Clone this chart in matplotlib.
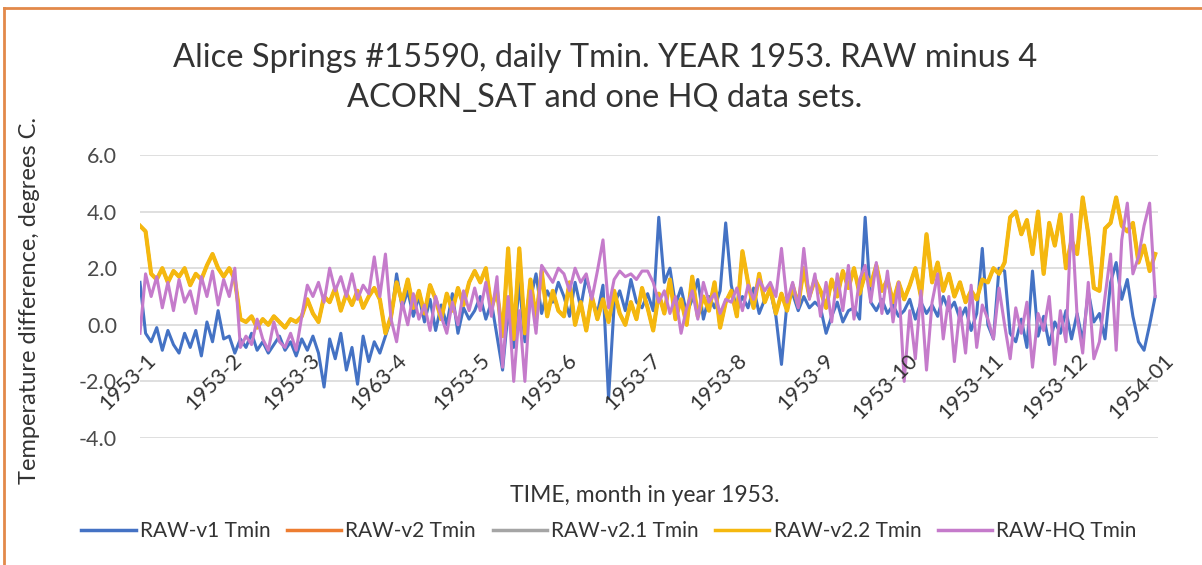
import numpy as np
import pandas as pd
import matplotlib
matplotlib.use("Agg")
import matplotlib.pyplot as plt
from matplotlib.lines import Line2D

plt.rcParams['font.family'] = ['Lato', 'DejaVu Sans']

# values, one every 2 days, one row per month
raw_v1 = [
    1.5, -0.3, -0.6, -0.1, -0.9, -0.2, -0.7, -1.0, -0.3, -0.8, -0.2, -1.1, 0.1, -0.6, 0.5, -0.5,
    -0.4, -1.0, -0.5, -0.8, -0.3, -0.9, -0.6, -1.0, -0.7, -0.4, -0.9, -0.6, -1.1, -0.5,
    -0.9, -0.4, -1.0, -2.2, -0.5, -1.2, -0.3, -1.6, -0.8, -2.1, -0.4, -1.3, -0.6, -1.0, -0.4,
    0.2, 1.8, 0.6, 1.2, 0.3, 1.0, 0.1, 0.9, -0.2, 0.7, 0.0, 1.1, -0.3, 0.6, 0.2,
    0.5, 1.0, 0.2, 0.8, -0.4, -1.6, 0.5, -0.8, 1.5, -0.6, 0.9, 1.8, 0.4, 1.2, 0.8, 1.5,
    1.0, 0.3, 1.5, 0.6, 1.7, 0.9, 0.4, 1.4, -2.6, 0.7, 1.2, 0.5, 1.6, 0.8, 0.6,
    1.1, 0.5, 3.8, 1.5, 2.0, 0.7, 1.3, 0.4, 0.9, 1.6, 0.2, 1.0, 0.6, 1.2, 3.6,
    1.4, 0.5, 1.0, 0.6, 1.3, 0.4, 0.9, 1.2, 0.3, -1.4, 0.8, 1.1, 0.5, 1.0, 0.6, 0.8,
    0.6, -0.3, 0.3, 0.8, 0.1, 0.5, 0.6, 0.2, 3.8, 0.8, 0.5, 0.9, 0.4, 0.7, 0.3,
    0.5, 0.9, 0.2, 0.8, 0.4, 0.7, 0.3, 1.0, 0.5, 0.8, 0.2, 0.6, -0.2, 0.4, 2.7,
    0.0, -0.5, 2.0, 1.9, -0.3, -0.6, 0.2, -0.8, 1.9, -0.4, 0.3, -0.7, 0.1, -0.3, 0.5,
    -0.5, 0.4, -0.6, 1.2, 0.1, 0.4, -0.5, 1.5, 2.2, 0.9, 1.6, 0.3, -0.6, -0.9, 0.0, 1.0,
]

raw_v22 = [
    3.5, 3.3, 1.8, 1.6, 2.0, 1.5, 1.9, 1.7, 2.0, 1.4, 1.8, 1.6, 2.1, 2.5, 2.0, 1.7,
    2.0, 1.6, 0.2, 0.1, 0.3, -0.1, 0.2, 0.0, 0.3, 0.1, -0.1, 0.2, 0.1, 0.3,
    0.9, 0.4, 0.1, 1.0, 0.8, 1.3, 0.5, 1.1, 0.7, 1.2, 0.6, 1.0, 1.3, 0.9, -0.3,
    0.3, 1.5, 0.8, 1.6, 0.6, 1.2, 0.4, 1.4, 0.9, 0.2, 1.1, 0.5, 1.3, 0.7, 1.5,
    1.9, 1.5, 2.0, 0.6, 1.2, -0.4, 2.7, -0.5, 2.7, -0.3, 1.6, 0.2, 1.9, 0.3, 1.2, 0.5,
    0.3, 1.5, 0.0, 0.8, -0.2, 1.0, 0.2, 0.9, 0.1, 1.2, 0.4, 0.0, 0.8, 0.2, 1.3,
    0.6, -0.2, 1.1, 0.4, 1.6, 0.2, 0.9, 0.0, 1.7, 0.3, 1.0, 0.5, 1.5, -0.1, 0.8,
    1.2, 0.3, 2.6, 1.5, 0.6, 1.8, 0.8, 1.3, 0.4, 1.1, 0.5, 1.4, 0.7, 2.0, 1.0, 1.6,
    1.2, 0.6, 1.6, 1.0, 1.9, 1.3, 2.0, 1.1, 1.8, 1.4, 2.1, 1.2, 1.6, 0.8, 1.5,
    0.9, 1.4, 2.0, 1.0, 3.2, 1.5, 2.2, 1.2, 1.8, 1.0, 1.5, 0.8, 1.2, 0.9, 1.6,
    1.5, 2.0, 1.8, 2.2, 3.8, 4.0, 3.2, 3.7, 2.5, 4.0, 1.8, 3.6, 2.8, 3.9, 2.0,
    3.0, 2.5, 4.5, 3.2, 1.3, 1.2, 3.4, 3.6, 4.5, 3.5, 3.3, 3.6, 2.2, 2.8, 1.9, 2.5,
]
# v2 and v2.1 lie under v2.2 in the picture
raw_v2 = list(raw_v22)
raw_v21 = list(raw_v22)

raw_hq = [
    -0.3, 1.8, 1.0, 1.7, 0.6, 1.5, 0.5, 1.6, 0.8, 1.2, 0.4, 1.7, 1.0, 1.9, 0.7, 1.6,
    1.0, 2.0, -0.8, -0.4, -0.7, 0.2, -0.5, -0.9, 0.1, -0.6, -0.8, -0.3, -0.9, 0.3,
    1.4, 1.0, 1.5, 0.8, 2.0, 1.2, 1.7, 1.0, 1.8, 0.9, 1.4, 1.1, 2.4, 1.0, 2.5,
    0.2, -0.6, 0.8, 0.0, 1.1, 0.2, 0.7, -0.2, 1.0, 0.3, -0.3, 0.8, 0.0, 1.2, 0.5,
    1.3, 0.5, 1.5, 0.3, 1.7, -1.5, 1.0, -2.0, 0.5, -2.0, 1.2, -0.3, 2.1, 1.8, 1.5, 2.0,
    1.8, 1.2, 2.0, 1.5, 1.8, 0.9, 1.9, 3.0, 0.6, 1.6, 1.9, 1.7, 1.8, 1.6, 1.9,
    1.9, 1.5, 0.8, 1.2, 0.4, 1.0, -0.3, 0.6, 1.2, 0.2, 1.5, 0.8, 1.1, 0.4, 0.9,
    0.8, 1.3, 0.5, 1.4, 0.9, 1.6, 1.2, 1.5, 1.0, 2.7, 0.8, 1.5, 0.6, 2.7, 0.9, 1.8,
    0.3, 1.5, 0.1, 1.8, 0.5, 2.1, 0.2, 1.6, 2.1, 0.8, 2.2, 0.4, 1.9, 0.1, 1.5,
    -2.0, 0.5, -1.2, 1.2, -1.6, 0.8, 1.8, -0.5, 1.0, -1.3, 0.6, -1.0, 1.4, -0.8, 0.7,
    0.2, -0.5, 1.3, 0.0, -1.2, 0.6, -0.3, 0.8, -1.5, 0.4, -0.2, 1.0, -1.4, 0.5, -0.6,
    3.9, 0.3, -1.0, 1.5, -1.2, -0.6, 1.0, 2.5, -0.9, 3.0, 4.3, 1.8, 2.4, 3.5, 4.3, 1.0,
]

month_starts = ['1953-01-01', '1953-02-01', '1953-03-01', '1953-04-01', '1953-05-01',
                '1953-06-01', '1953-07-01', '1953-08-01', '1953-09-01', '1953-10-01',
                '1953-11-01', '1953-12-01', '1954-01-01']
month_labels = ['1953-1', '1953-2', '1953-3', '1963-4', '1953-5', '1953-6', '1953-7',
                '1953-8', '1953-9', '1953-10', '1953-11', '1953-12', '1954-01']
y_ticks = [-4.0, -2.0, 0.0, 2.0, 4.0, 6.0]

series = [
    ('RAW-v1 Tmin', raw_v1, '#4472C4', 2.2),
    ('RAW-v2 Tmin', raw_v2, '#ED7D31', 2.2),
    ('RAW-v2.1 Tmin', raw_v21, '#A5A5A5', 2.2),
    ('RAW-v2.2 Tmin', raw_v22, '#F5B80F', 3.0),
    ('RAW-HQ Tmin', raw_hq, '#C57BCB', 2.2),
]

txt = '#333333'
fig = plt.figure(figsize=(12.02, 5.65), dpi=100)
ax = fig.add_axes([140 / 1202, 1 - 438 / 565, 1018 / 1202, 283 / 565])

for name, vals, col, lw in series:
    dates = pd.date_range('1953-01-01', periods=len(vals), freq='2D')
    ax.plot(dates, vals, color=col, lw=lw, label=name, solid_joinstyle='round')

months = pd.to_datetime(month_starts)
ax.set_xlim(months[0], months[-1])
ax.set_ylim(-4, 6)
ax.set_yticks(y_ticks)
ax.set_yticklabels([f'{v:.1f}' for v in y_ticks], color='#4a4a4a', fontsize=15.5)
ax.tick_params(axis='y', length=0, pad=16.5)
ax.set_xticks([])
ax.grid(axis='y', color='#D9D9D9', lw=1.2)
ax.set_axisbelow(True)
for s in ax.spines.values():
    s.set_visible(False)

for m, lab in zip(months, month_labels):
    ax.annotate(lab, xy=(m, 0), xytext=(4, -18), textcoords='offset points',
                rotation=45, ha='right', va='top', rotation_mode='anchor',
                fontsize=15.5, color=txt)

fig.text(605 / 1202, 1 - 58 / 565, 'Alice Springs #15590, daily Tmin. YEAR 1953. RAW minus 4',
         ha='center', va='center', fontsize=23.5, color=txt)
fig.text(605 / 1202, 1 - 98 / 565, 'ACORN_SAT and one HQ data sets.',
         ha='center', va='center', fontsize=23.5, color=txt)
fig.text(30 / 1202, 1 - 300 / 565, 'Temperature difference, degrees C.', rotation=90,
         ha='center', va='center', fontsize=17, color=txt)
fig.text(645 / 1202, 1 - 496 / 565, 'TIME, month in year 1953.',
         ha='center', va='center', fontsize=16.5, color=txt)

handles = [Line2D([], [], color=col, lw=2.5) for _, _, col, _ in series]
fig.legend(handles, [s[0] for s in series], loc='center', ncol=5,
           bbox_to_anchor=(609 / 1202, 1 - 531 / 565), frameon=False,
           fontsize=15, handlelength=2.6, handletextpad=0.2, columnspacing=0.8,
           labelcolor=txt)

# orange frame along top and left edge
fig.add_artist(Line2D([4 / 1202, 4 / 1202], [0, 1 - 8 / 565], color='#E2894A', lw=2,
                      transform=fig.transFigure))
fig.add_artist(Line2D([4 / 1202, 1], [1 - 8 / 565, 1 - 8 / 565], color='#E2894A', lw=2,
                      transform=fig.transFigure))

fig.savefig('out.png', dpi=100)
